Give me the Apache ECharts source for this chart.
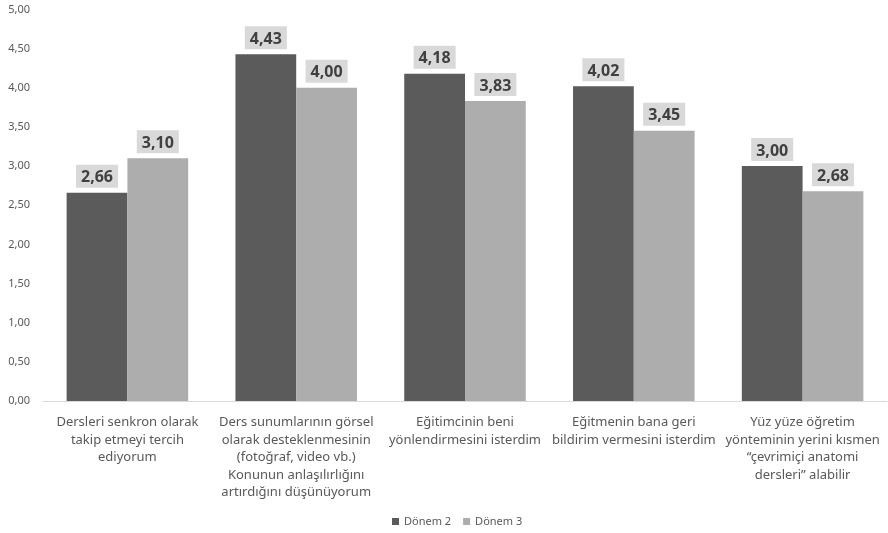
<!DOCTYPE html>
<html><head><meta charset="utf-8">
<script src="https://cdn.jsdelivr.net/npm/echarts@6/dist/echarts.min.js"></script>
<style>html,body{margin:0;padding:0;background:#fff}#c{width:888px;height:533px}</style>
</head><body><div id="c"></div>
<script>
const categories = [
  "Dersleri senkron olarak\ntakip etmeyi tercih\nediyorum",
  "Ders sunumlarının görsel\nolarak desteklenmesinin\n(fotoğraf, video vb.)\nKonunun anlaşılırlığını\nartırdığını düşünüyorum",
  "Eğitimcinin beni\nyönlendirmesini isterdim",
  "Eğitmenin bana geri\nbildirim vermesini isterdim",
  "Yüz yüze öğretim\nyönteminin yerini kısmen\n“çevrimiçi anatomi\ndersleri” alabilir"
];
const seriesNames = ["Dönem 2", "Dönem 3"];
const donem2 = [2.66, 4.43, 4.18, 4.02, 3.00];
const donem3 = [3.10, 4.00, 3.83, 3.45, 2.68];
const yTicks = {min: 0, max: 5, interval: 0.5};

const fmt = v => v.toFixed(2).replace('.', ',');
const font = "'Noto Sans', 'DejaVu Sans', sans-serif";
const labelStyle = {
  show: true, position: 'top', distance: 5,
  formatter: p => fmt(p.value),
  fontFamily: font, fontWeight: 'bold', fontSize: 16, color: '#404040',
  backgroundColor: '#d9d9d9', padding: [5, 5, 2, 5]
};
const chart = echarts.init(document.getElementById('c'));
chart.setOption({
  animation: false,
  textStyle: {fontFamily: font},
  grid: {left: 43, right: 1, top: 9.5, bottom: 132, containLabel: false},
  legend: {
    bottom: 1, left: 387, itemWidth: 7, itemHeight: 7, itemGap: 12,
    icon: 'rect',
    textStyle: {fontFamily: font, fontSize: 11, color: '#595959'},
    data: seriesNames
  },
  xAxis: {
    type: 'category', data: categories,
    axisLine: {lineStyle: {color: '#d9d9d9', width: 1}},
    axisTick: {show: false},
    axisLabel: {interval: 0, margin: 13, fontFamily: font, fontSize: 13, color: '#595959', lineHeight: 17.5}
  },
  yAxis: {
    type: 'value', min: yTicks.min, max: yTicks.max, interval: yTicks.interval,
    splitLine: {show: false}, axisLine: {show: false}, axisTick: {show: false},
    axisLabel: {formatter: v => fmt(v), fontFamily: font, fontSize: 11, color: '#595959', margin: 13}
  },
  series: [
    {name: seriesNames[0], type: 'bar', data: donem2, barGap: '0%', barCategoryGap: '28%',
     itemStyle: {color: '#5b5b5b'}, label: labelStyle},
    {name: seriesNames[1], type: 'bar', data: donem3, barGap: '0%', barCategoryGap: '28%',
     itemStyle: {color: '#adadad'}, label: labelStyle}
  ]
});
</script></body></html>
